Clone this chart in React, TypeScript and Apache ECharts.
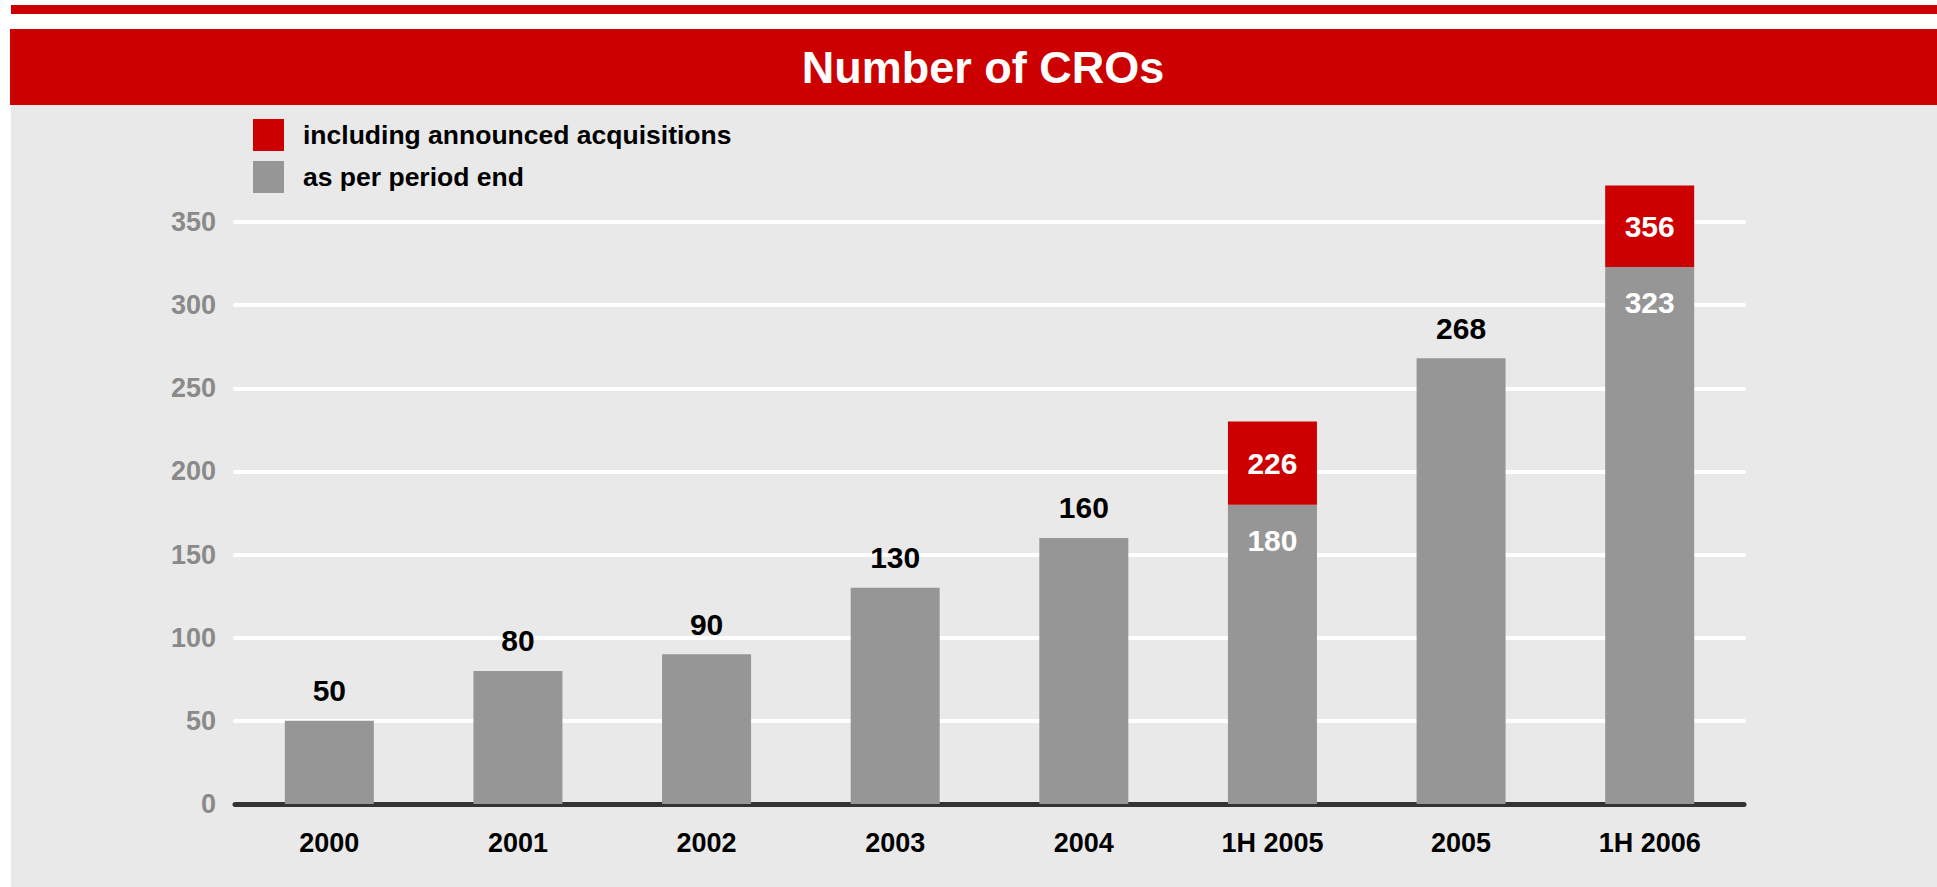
import React, { useEffect, useRef } from "react";
import * as echarts from "echarts";

const categories = ["2000", "2001", "2002", "2003", "2004", "1H 2005", "2005", "1H 2006"];
// grey bars: CROs as per period end
const asPerPeriodEnd = [50, 80, 90, 130, 160, 180, 268, 323];
// printed totals including announced acquisitions
const inclAcquisitionsTotal = [null, null, null, null, null, 226, null, 356];
// red box as drawn on top of the grey bar
const acquisitionsSegment = [null, null, null, null, null, 50, null, 49];

const seriesNames = ["including announced acquisitions", "as per period end"];
const titleText = "Number of CROs";

const RED = "#cc0000";
const GREY = "#969696";
const BG = "#e9e9e9";
const FONT = "'Liberation Sans', Arial, sans-serif";

export default function App() {
  const ref = useRef<HTMLDivElement>(null);

  useEffect(() => {
    if (!ref.current) return;
    const chart = echarts.init(ref.current, undefined, { renderer: "svg" });

    const greyData = asPerPeriodEnd.map((v, i) => {
      const hasRed = acquisitionsSegment[i] != null;
      return {
        value: v,
        label: hasRed
          ? { show: true, position: "insideTop", distance: 21, color: "#ffffff" }
          : { show: true, position: "top", distance: 15, color: "#000000" },
      };
    });

    const option: any = {
      animation: false,
      backgroundColor: "#ffffff",
      graphic: [
        { type: "rect", z: -10, shape: { x: 11, y: 5, width: 1926, height: 9 }, style: { fill: RED } },
        { type: "rect", z: -10, shape: { x: 10, y: 29, width: 1927, height: 76 }, style: { fill: RED } },
        { type: "rect", z: -10, shape: { x: 11, y: 105, width: 1926, height: 782 }, style: { fill: BG } },
        {
          type: "text",
          z: 10,
          x: 983,
          y: 67,
          style: {
            text: titleText,
            fill: "#ffffff",
            font: `bold 45px ${FONT}`,
            textAlign: "center",
            textVerticalAlign: "middle",
          },
        },
      ],
      legend: {
        orient: "vertical",
        left: 253,
        top: 119,
        padding: 0,
        itemWidth: 31,
        itemHeight: 32,
        itemGap: 10,
        icon: "rect",
        data: seriesNames,
        selectedMode: false,
        textStyle: {
          fontFamily: FONT,
          fontWeight: "bold",
          fontSize: 26.5,
          color: "#000000",
          padding: [0, 0, 0, 14],
        },
      },
      grid: { left: 235, right: 193, top: 222, bottom: 83, containLabel: false },
      xAxis: {
        type: "category",
        data: categories,
        axisTick: { show: false },
        axisLine: { show: true, lineStyle: { color: "#333333", width: 5, cap: "round" } },
        axisLabel: {
          margin: 25,
          fontFamily: FONT,
          fontWeight: "bold",
          fontSize: 27,
          color: "#000000",
        },
      },
      yAxis: {
        type: "value",
        min: 0,
        max: 350,
        interval: 50,
        axisLine: { show: false },
        axisTick: { show: false },
        splitLine: { show: true, lineStyle: { color: "#ffffff", width: 4, cap: "round" } },
        axisLabel: {
          margin: 19,
          fontFamily: FONT,
          fontWeight: "bold",
          fontSize: 27,
          color: "#8a8a8a",
        },
      },
      series: [
        {
          name: seriesNames[1],
          type: "bar",
          stack: "total",
          barWidth: 89,
          clip: false,
          itemStyle: { color: GREY },
          label: { fontFamily: FONT, fontWeight: "bold", fontSize: 30 },
          data: greyData,
        },
        {
          name: seriesNames[0],
          type: "bar",
          stack: "total",
          barWidth: 89,
          clip: false,
          itemStyle: { color: RED },
          label: {
            show: true,
            position: "inside",
            color: "#ffffff",
            fontFamily: FONT,
            fontWeight: "bold",
            fontSize: 30,
            formatter: (p: any) => {
              const v = inclAcquisitionsTotal[p.dataIndex];
              return v == null ? "" : String(v);
            },
          },
          data: acquisitionsSegment.map((v) => (v == null ? "-" : v)),
        },
      ],
    };

    chart.setOption(option);
    return () => chart.dispose();
  }, []);

  return (
    <div
      ref={ref}
      style={{ position: "absolute", left: 0, top: 0, width: 1937, height: 887 }}
    />
  );
}
